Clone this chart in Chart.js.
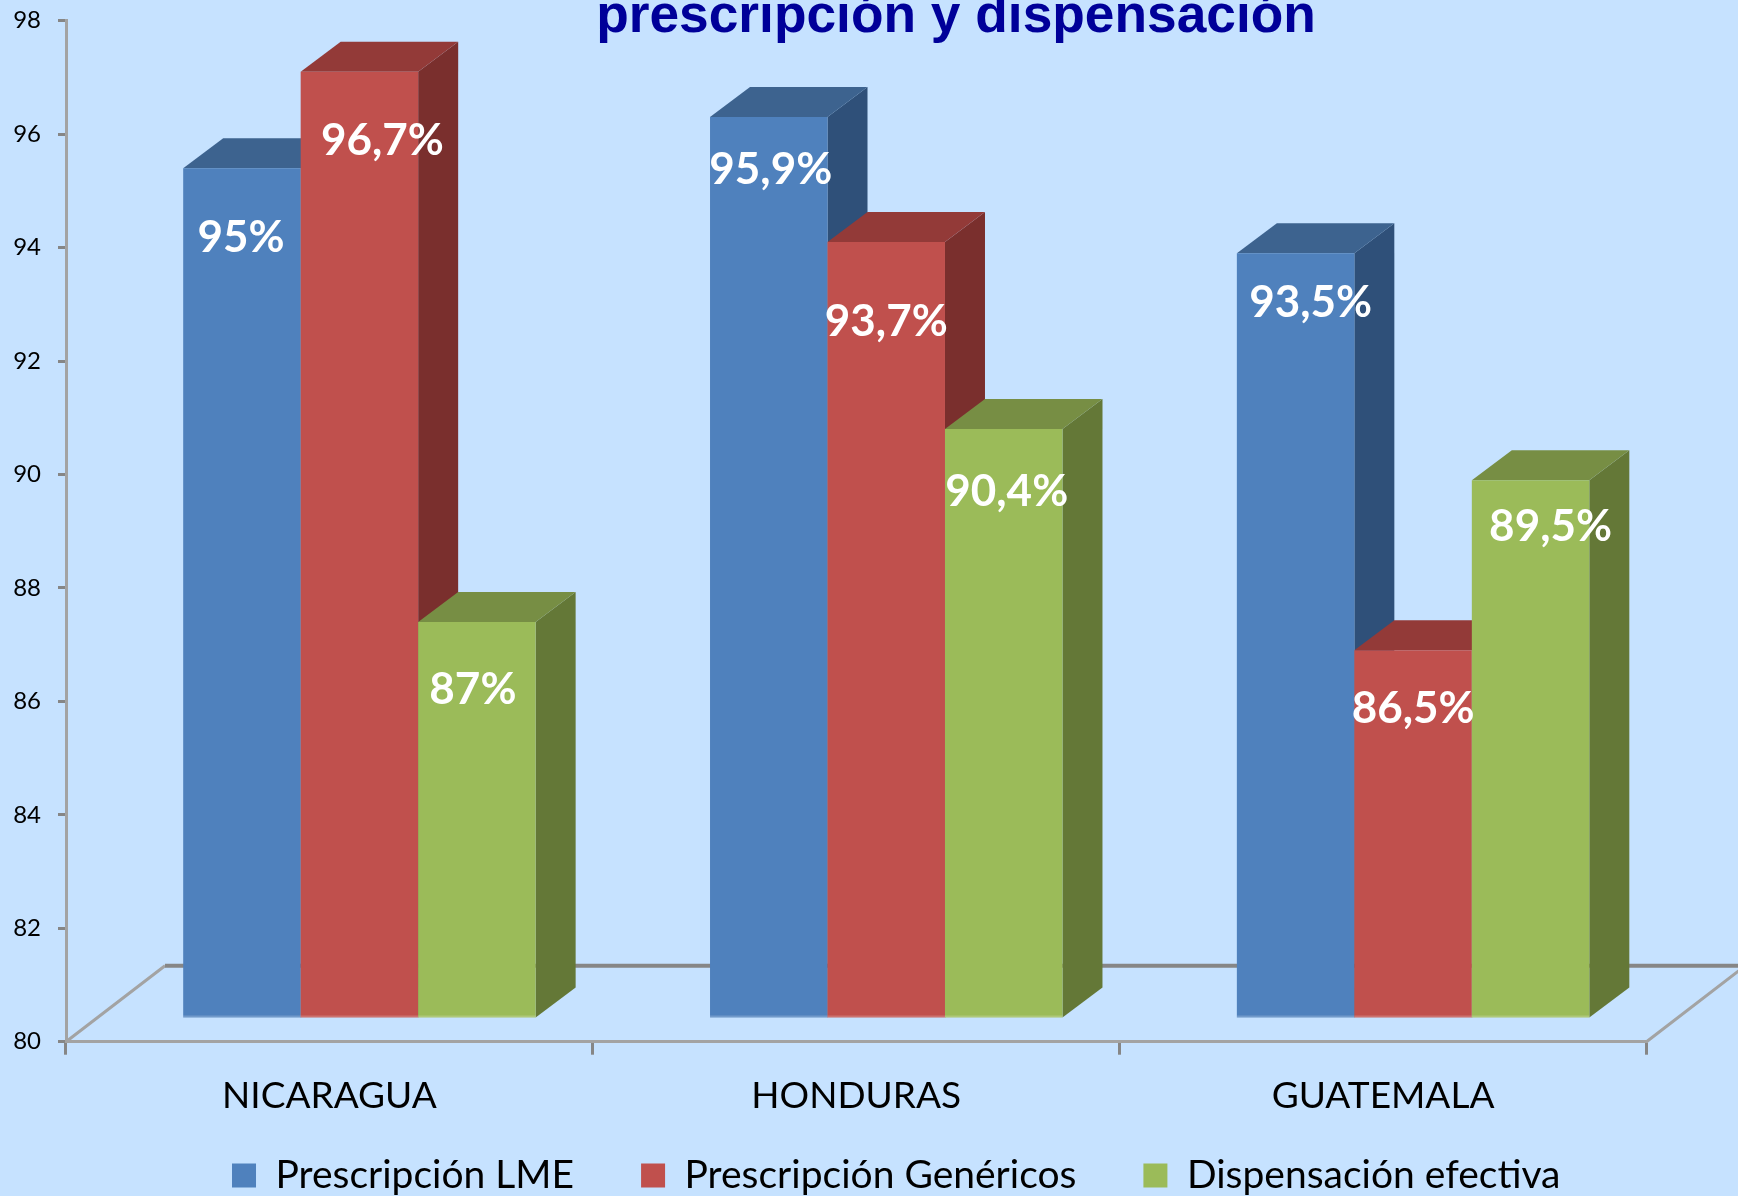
<!DOCTYPE html>
<html>
<head>
<meta charset="utf-8">
<title>prescripción y dispensación</title>
<script src="https://cdn.jsdelivr.net/npm/chart.js@4/dist/chart.umd.min.js"></script>
<style>
  html, body { margin: 0; padding: 0; background: #c6e2ff; overflow: hidden; }
  #wrap { position: relative; width: 1738px; height: 1196px; }
</style>
</head>
<body>
<div id="wrap"><canvas id="chart" width="1738" height="1196"></canvas></div>
<script>
// ---- data ----
const categories = ["NICARAGUA", "HONDURAS", "GUATEMALA"];
const seriesNames = ["Prescripción LME", "Prescripción Genéricos", "Dispensación efectiva"];
const lmeValues = [95, 95.9, 93.5];
const genericValues = [96.7, 93.7, 86.5];
const dispensingValues = [87, 90.4, 89.5];
const lmeLabels = ["95%", "95,9%", "93,5%"];
const genericLabels = ["96,7%", "93,7%", "86,5%"];
const dispensingLabels = ["87%", "90,4%", "89,5%"];
const titleText = "prescripción y dispensación";

// ---- look ----
const FONT = "Lato, 'Open Sans', sans-serif";
const AXIS_GREY = "#868686";
// pseudo 3D: bars sit part way into the floor, faces go back by this much
const BAR_SHIFT = { x: 30, y: -22.7 };
const DEPTH = { x: 40, y: 30 };
const FLOOR = { x: 99, y: 76 };
const faces = [
  { front: "#4f81bd", top: "#3d638f", side: "#2f5079" },
  { front: "#c0504d", top: "#933a38", side: "#7a2f2d" },
  { front: "#9bbb59", top: "#778e44", side: "#647837" },
];
// where each % label sits relative to the middle of the front face's top edge (the original is hand placed)
const labelNudge = [
  [[-1, 70], [23, 69], [-4, 68]],
  [[2, 53], [0, 80], [3, 63]],
  [[15, 50], [0, 59], [20, 47]],
];

// ---- plugins ----
// floor of the plot, behind the bars
const floorPlugin = {
  id: "floor",
  beforeDatasetsDraw(chart) {
    const { ctx, chartArea: a } = chart;
    const y0 = chart.scales.y.getPixelForValue(80);
    ctx.save();
    ctx.strokeStyle = "#a3a3a3";
    ctx.lineWidth = 3;
    ctx.beginPath();
    ctx.moveTo(a.left, y0);
    ctx.lineTo(a.left + FLOOR.x, y0 - FLOOR.y);
    ctx.moveTo(a.right, y0);
    ctx.lineTo(a.right + FLOOR.x, y0 - FLOOR.y);
    ctx.stroke();
    ctx.strokeStyle = AXIS_GREY;
    ctx.lineWidth = 4;
    ctx.beginPath();
    ctx.moveTo(a.left + FLOOR.x, y0 - FLOOR.y);
    ctx.lineTo(a.right + FLOOR.x, y0 - FLOOR.y);
    ctx.stroke();
    ctx.restore();
  },
};

// Chart.js paints the rightmost bar first, the 3D look needs the leftmost first, so this plugin
// takes over painting of the bar elements, adding a top and a side to each one.
const bar3dPlugin = {
  id: "bar3d",
  beforeDatasetDraw() {
    return false;
  },
  afterDatasetsDraw(chart) {
    const { ctx } = chart;
    ctx.save();
    ctx.translate(BAR_SHIFT.x, BAR_SHIFT.y);
    chart.getDatasetMeta(0).data.forEach((_, j) => {
      faces.forEach((c, i) => {
        const bar = chart.getDatasetMeta(i).data[j];
        const l = bar.x - bar.width / 2, r = bar.x + bar.width / 2;
        ctx.fillStyle = c.side;
        ctx.beginPath();
        ctx.moveTo(r, bar.y);
        ctx.lineTo(r + DEPTH.x, bar.y - DEPTH.y);
        ctx.lineTo(r + DEPTH.x, bar.base - DEPTH.y);
        ctx.lineTo(r, bar.base);
        ctx.closePath();
        ctx.fill();
        ctx.fillStyle = c.top;
        ctx.beginPath();
        ctx.moveTo(l, bar.y);
        ctx.lineTo(l + DEPTH.x, bar.y - DEPTH.y);
        ctx.lineTo(r + DEPTH.x, bar.y - DEPTH.y);
        ctx.lineTo(r, bar.y);
        ctx.closePath();
        ctx.fill();
        bar.draw(ctx);
        // thin lighter edge along the floor
        ctx.fillStyle = "rgba(255,255,255,0.2)";
        ctx.fillRect(l, bar.base - 2, bar.width, 2);
      });
    });
    ctx.restore();

    // % labels go over everything
    ctx.save();
    ctx.font = "bold 44px " + FONT;
    ctx.fillStyle = "#ffffff";
    ctx.textAlign = "center";
    ctx.textBaseline = "middle";
    chart.data.datasets.forEach((ds, i) => {
      chart.getDatasetMeta(i).data.forEach((bar, j) => {
        const n = labelNudge[j][i];
        ctx.fillText(ds.valueLabels[j], bar.x + BAR_SHIFT.x + n[0], bar.y + BAR_SHIFT.y + n[1]);
      });
    });
    ctx.restore();
  },
  // title is cut by the top of the picture, like in the source
  afterDraw(chart) {
    const { ctx } = chart;
    ctx.save();
    ctx.font = "bold 53.3px 'Liberation Sans', Arial, sans-serif";
    ctx.fillStyle = "#000099";
    ctx.textAlign = "center";
    ctx.textBaseline = "alphabetic";
    ctx.fillText(titleText, 956, 32);
    ctx.restore();
  },
  // legend sits higher than its box and is centred on the slide, not on the plot
  afterLayout(chart) {
    chart.legend.top = 1089;
    chart.legend.left += 73;
    chart.legend.right += 73;
  },
};

// ---- chart ----
const valueSets = [lmeValues, genericValues, dispensingValues];
const labelSets = [lmeLabels, genericLabels, dispensingLabels];

new Chart(document.getElementById("chart"), {
  type: "bar",
  data: {
    labels: categories,
    datasets: seriesNames.map((name, i) => ({
      label: name,
      data: valueSets[i],
      valueLabels: labelSets[i],
      backgroundColor: faces[i].front,
      base: 80,
      categoryPercentage: 0.669,
      barPercentage: 1,
    })),
  },
  plugins: [floorPlugin, bar3dPlugin],
  options: {
    responsive: false,
    animation: false,
    layout: { padding: { left: 0, top: 20.7, right: 91.5, bottom: -51.7 } },
    plugins: {
      tooltip: { enabled: false },
      title: { display: false },
      legend: {
        position: "bottom",
        onClick: null,
        labels: {
          boxWidth: 24,
          boxHeight: 24,
          padding: 67,
          color: "#000000",
          font: { family: FONT, size: 39 },
        },
      },
    },
    scales: {
      x: {
        afterFit: (s) => { s.height = 90; },
        border: { color: "#a3a3a3", width: 3 },
        grid: { drawOnChartArea: false, color: AXIS_GREY, lineWidth: 3, tickLength: 13 },
        ticks: { color: "#000000", padding: 19, maxRotation: 0, font: { family: FONT, size: 37 } },
      },
      y: {
        min: 80,
        max: 98,
        afterFit: (s) => {
          s.width = 66;
          // the axis reaches right up to the top edge, no room kept for the label
          s.paddingTop = 0;
          s.paddingBottom = 0;
        },
        border: { color: "#a3a3a3", width: 3 },
        grid: { drawOnChartArea: false, color: AXIS_GREY, lineWidth: 3, tickLength: 8 },
        ticks: { stepSize: 2, color: "#000000", padding: 17, font: { family: FONT, size: 24 } },
      },
    },
  },
});
</script>
</body>
</html>
